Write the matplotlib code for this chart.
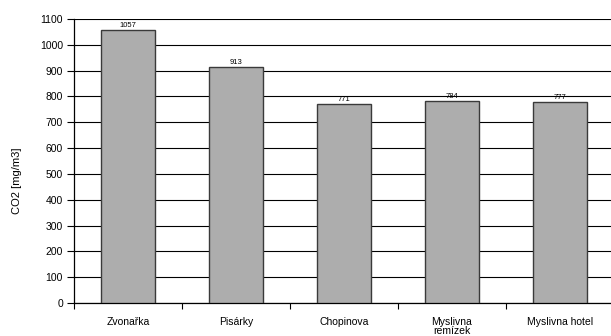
import matplotlib
matplotlib.use("Agg")
import matplotlib.pyplot as plt
from matplotlib.ticker import FixedLocator, MultipleLocator

categories = ["Zvonařka", "Pisárky", "Chopinova", "Myslivna\nremízek", "Myslivna hotel"]
values = [1057, 913, 771, 784, 777]
y_label = "CO2 [mg/m3]"

plt.rcParams["font.family"] = ["Liberation Sans", "DejaVu Sans"]

fig = plt.figure(figsize=(6.11, 3.36), dpi=100)
ax = fig.add_axes([74 / 611, 1 - 303 / 336, 540 / 611, 284 / 336])

x = list(range(len(categories)))
ax.bar(x, values, width=0.5, color="#adadad", edgecolor="#3a3a3a",
       linewidth=1.0, zorder=3)

for xi, v in zip(x, values):
    ax.text(xi, v + 4, str(v), ha="center", va="bottom", fontsize=5.5,
            color="black", zorder=4)

ax.set_ylim(0, 1100)
ax.set_xlim(-0.5, 4.5)
ax.yaxis.set_major_locator(MultipleLocator(100))
ax.yaxis.grid(True, color="black", linewidth=0.8, zorder=0)
ax.set_axisbelow(True)

ax.set_xticks(x)
ax.set_xticklabels(categories, fontsize=7.5, linespacing=0.95)
ax.tick_params(axis="x", which="major", length=0, pad=10)
ax.xaxis.set_minor_locator(FixedLocator([i + 0.5 for i in range(-1, len(categories) - 1)]))
ax.tick_params(axis="x", which="minor", length=4, width=0.8, direction="out")
ax.tick_params(axis="y", length=5, width=0.8, direction="out", labelsize=7.5, pad=3)

for side in ("top", "right"):
    ax.spines[side].set_visible(False)
for side in ("left", "bottom"):
    ax.spines[side].set_linewidth(0.9)
    ax.spines[side].set_color("black")

ax.set_ylabel(y_label, fontsize=8)
ax.yaxis.set_label_coords(-0.097, 0.43)

fig.savefig("out.png", dpi=100)
